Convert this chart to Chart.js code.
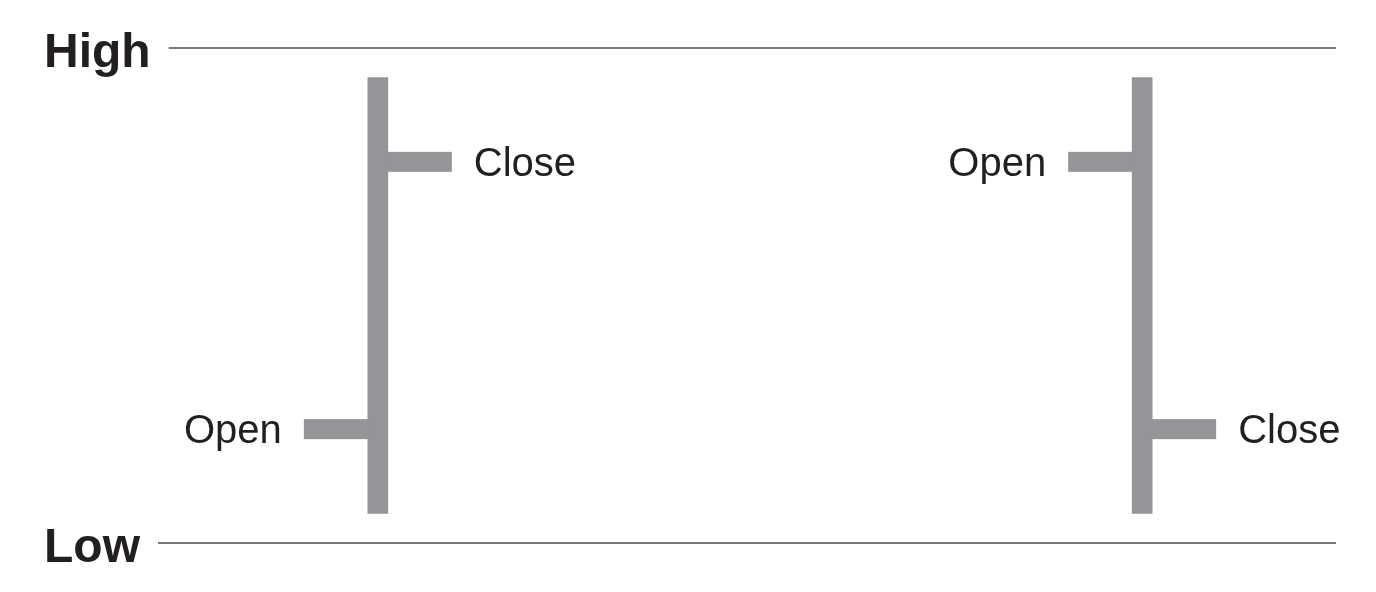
<!DOCTYPE html>
<html>
<head>
<meta charset="utf-8">
<script src="https://cdn.jsdelivr.net/npm/chart.js@4/dist/chart.umd.min.js"></script>
<style>
  html, body { margin: 0; padding: 0; background: #ffffff; }
  canvas { display: block; }
</style>
</head>
<body>
<canvas id="c" width="1376" height="592"></canvas>
<script>
// ---- data ----
const categories = ['Rising period', 'Falling period'];
const highValues = [94, 94];
const lowValues = [6, 6];
const openValues = [23, 77];
const closeValues = [77, 23];
const axisTickValues = [0, 100];
const axisTickLabels = ['Low', 'High'];
const openLabel = 'Open';
const closeLabel = 'Close';

// ---- styles ----
const BAR_COLOR = '#939598';
const TEXT_COLOR = '#231f20';
const RULE_COLOR = '#4d4d4d';
const LABEL_FONT = '40px "Liberation Sans", Arial, sans-serif';
const AXIS_FONT_FAMILY = '"Liberation Sans", Arial, sans-serif';
const TICK_LEN = 64;
const TICK_THICK = 20;
const TEXT_GAP = 22;

const ohlcPlugin = {
  id: 'ohlcTicks',
  beforeDatasetsDraw(chart) {
    const ctx = chart.ctx;
    const ys = chart.scales.y;
    ctx.save();
    ctx.font = 'bold 48px ' + AXIS_FONT_FAMILY;
    ctx.strokeStyle = RULE_COLOR;
    ctx.lineWidth = 1.5;
    ys.ticks.forEach((t) => {
      const label = axisTickLabels[axisTickValues.indexOf(t.value)];
      const w = ctx.measureText(label).width;
      const y = ys.getPixelForValue(t.value);
      ctx.beginPath();
      ctx.moveTo(ys.left + w + 18, y);
      ctx.lineTo(chart.chartArea.right, y);
      ctx.stroke();
    });
    ctx.restore();
  },
  afterDatasetsDraw(chart) {
    const ctx = chart.ctx;
    const ys = chart.scales.y;
    const meta = chart.getDatasetMeta(0);
    ctx.save();
    ctx.font = LABEL_FONT;
    meta.data.forEach((el, i) => {
      const half = el.width / 2;
      const yo = ys.getPixelForValue(openValues[i]);
      const yc = ys.getPixelForValue(closeValues[i]);
      ctx.fillStyle = BAR_COLOR;
      ctx.fillRect(el.x - half - TICK_LEN, yo - TICK_THICK / 2, TICK_LEN + 1, TICK_THICK);
      ctx.fillRect(el.x + half - 1, yc - TICK_THICK / 2, TICK_LEN + 1, TICK_THICK);
      ctx.fillStyle = TEXT_COLOR;
      ctx.textBaseline = 'alphabetic';
      ctx.textAlign = 'right';
      ctx.fillText(openLabel, el.x - half - TICK_LEN - TEXT_GAP, yo + 14);
      ctx.textAlign = 'left';
      ctx.fillText(closeLabel, el.x + half + TICK_LEN + TEXT_GAP, yc + 14);
    });
    ctx.restore();
  }
};

new Chart(document.getElementById('c'), {
  type: 'bar',
  data: {
    datasets: [{
      label: 'High–Low',
      data: categories.map((c, i) => ({ x: i + 1, y: [lowValues[i], highValues[i]] })),
      backgroundColor: BAR_COLOR,
      borderWidth: 0,
      barThickness: 20
    }]
  },
  options: {
    responsive: false,
    devicePixelRatio: 1,
    animation: false,
    layout: { padding: { left: 44, right: 40, top: 48, bottom: 49 } },
    plugins: { legend: { display: false }, tooltip: { enabled: false } },
    scales: {
      x: {
        type: 'linear',
        display: false,
        min: 0.7268,
        max: 2.2536,
        offset: false
      },
      y: {
        type: 'linear',
        min: 0,
        max: 100,
        afterBuildTicks(scale) {
          scale.ticks = axisTickValues.map(v => ({ value: v }));
        },
        afterFit(scale) {
          scale.width = 125;
        },
        grid: { display: false, drawTicks: false },
        border: { display: false },
        ticks: {
          callback: (v) => axisTickLabels[axisTickValues.indexOf(v)],
          font: { family: AXIS_FONT_FAMILY, size: 48, weight: 'bold' },
          color: TEXT_COLOR,
          padding: 18,
          crossAlign: 'far',
          labelOffset: 6
        }
      }
    }
  },
  plugins: [ohlcPlugin]
});
</script>
</body>
</html>
